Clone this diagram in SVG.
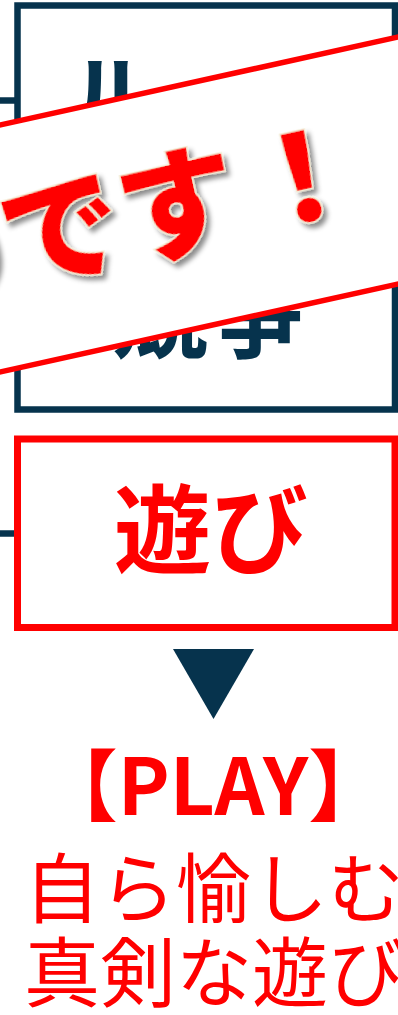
<svg xmlns="http://www.w3.org/2000/svg" width="398" height="1015" viewBox="0 0 398 1015">
<style>
.navy{fill:none;stroke:#06334D;stroke-width:6.5}
.navytxt{fill:#06334D;font-family:"Noto Sans CJK JP","Noto Sans",sans-serif;font-weight:700}
.redtxt{fill:#FF0000;font-family:"Noto Sans CJK JP","Noto Sans",sans-serif}
.stub{stroke:#06334D;stroke-width:6.5}
.bandline{stroke:#FF0000;stroke-width:5.5}
.banner{fill:#FF0000;stroke:#F3EBD3;stroke-width:3;paint-order:stroke;font-family:"Noto Sans CJK JP",sans-serif;font-weight:900}
</style>
<defs>
<filter id="shadow" x="-20%" y="-20%" width="140%" height="150%">
<feDropShadow dx="3" dy="5" stdDeviation="2.5" flood-color="#000" flood-opacity="0.45"/>
</filter>
</defs>
<rect width="398" height="1015" fill="#fff"/>
<g id="connectors">
<line class="stub" x1="0" y1="100.5" x2="16" y2="100.5"/>
<line class="stub" x1="0" y1="533.5" x2="16" y2="533.5"/>
<polygon id="arrow-down" points="173,649 254,649 213.5,719" fill="#06334D"/>
</g>
<g id="node-rule-box">
<rect class="navy" x="17.5" y="5.5" width="377.5" height="404"/>
<text class="navytxt" x="66" y="134" font-size="95">ル</text>
<text class="navytxt" x="208" y="351" font-size="95" text-anchor="middle">競争</text>
</g>
<g id="node-banner">
<polygon points="-10,127.2 410,34.4 410,281.4 -10,374.2" fill="#fff"/>
<line class="bandline" x1="-10" y1="127.2" x2="410" y2="34.4"/>
<line class="bandline" x1="-10" y1="374.2" x2="410" y2="281.4"/>
<text class="banner" filter="url(#shadow)" transform="translate(61,231) rotate(-12.46)" x="-180" y="44" font-size="120">のです<tspan dx="7">！</tspan></text>
</g>
<g id="node-play-box">
<rect x="17.5" y="439" width="377.5" height="188.5" fill="none" stroke="#FF0000" stroke-width="7"/>
<text class="redtxt" x="211" y="566" font-size="97" font-weight="700" text-anchor="middle">遊び</text>
</g>
<g id="node-play-label">
<text class="redtxt" x="213" y="815" font-size="78" font-weight="700" text-anchor="middle">【PLAY】</text>
<text class="redtxt" x="24" y="917" font-size="76">自ら愉しむ</text>
<text class="redtxt" x="24" y="1001" font-size="76">真剣な遊び</text>
</g>
</svg>
